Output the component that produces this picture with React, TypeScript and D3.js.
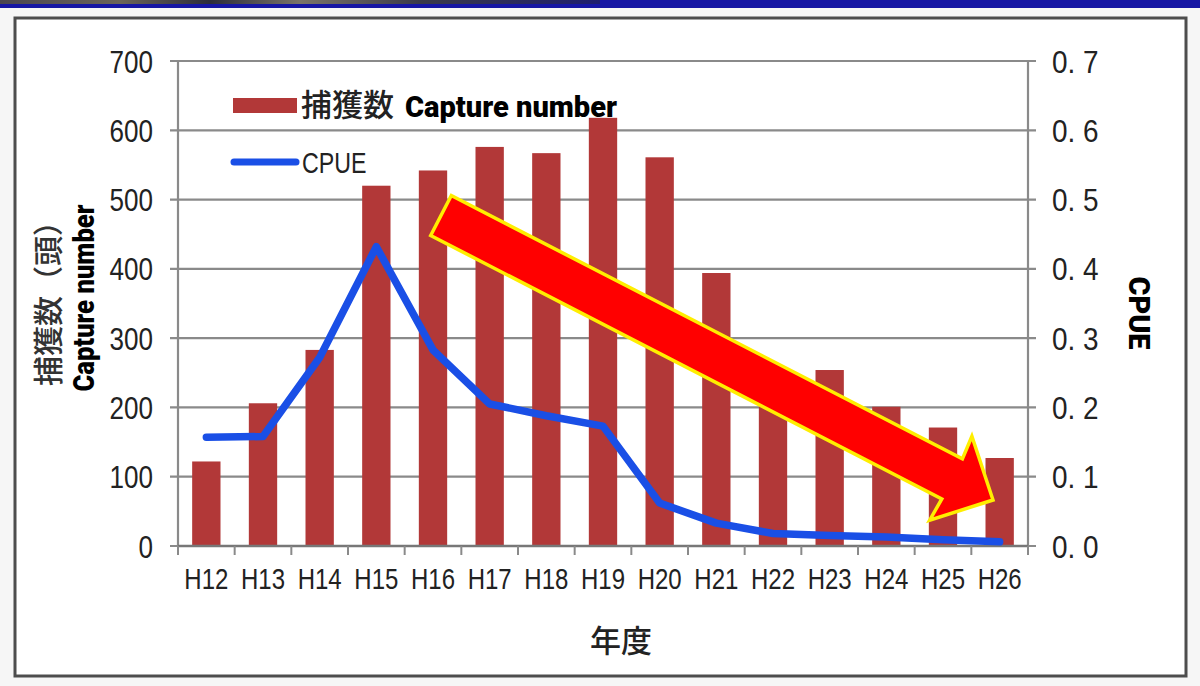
import React, { useEffect, useRef } from "react";
import * as d3 from "d3";

// Fiscal years (Heisei era)
const years = ["H12", "H13", "H14", "H15", "H16", "H17", "H18", "H19", "H20", "H21", "H22", "H23", "H24", "H25", "H26"];
// Number of animals captured (head)
const captures = [122, 206, 283, 520, 542, 576, 567, 618, 561, 394, 230, 254, 201, 171, 127];
// Catch per unit effort
const cpue = [0.157, 0.158, 0.272, 0.432, 0.283, 0.205, 0.188, 0.173, 0.062, 0.033, 0.018, 0.015, 0.013, 0.009, 0.006];

const leftTicks = [0, 100, 200, 300, 400, 500, 600, 700];
const rightTicks = [0, 0.1, 0.2, 0.3, 0.4, 0.5, 0.6, 0.7];

const W = 1200;
const H = 686;
const plot = { left: 178, right: 1028, top: 61, bottom: 546 };

const NUM_FONT = "'Liberation Sans', Arial, sans-serif";
const JP_FONT = "'Noto Sans CJK JP', 'Noto Sans CJK SC', sans-serif";
const HEAVY_FONT = "Roboto, 'Liberation Sans', Arial, sans-serif";

const BAR = "#b23838";
const LINE = "#1a4fe6";
const GRID = "#8a8a8a";

export default function App() {
  const svgRef = useRef<SVGSVGElement | null>(null);

  const x = d3.scaleBand<string>().domain(years).range([plot.left, plot.right]).paddingInner(0.5).paddingOuter(0.25);
  const step = x.step();
  const yL = d3.scaleLinear().domain([0, 700]).range([plot.bottom, plot.top]);
  const yR = d3.scaleLinear().domain([0, 0.7]).range([plot.bottom, plot.top]);

  const linePath = d3
    .line<number>()
    .x((_, i) => (x(years[i]) as number) + x.bandwidth() / 2)
    .y((d) => yR(d))
    .curve(d3.curveLinear)(cpue) as string;

  // Condense text horizontally so the glyphs read like a narrow gothic face
  useEffect(() => {
    const svg = d3.select(svgRef.current);
    svg.selectAll<SVGTextElement, unknown>("text[data-squeeze]").each(function () {
      const f = parseFloat(this.getAttribute("data-squeeze") || "1");
      const len = this.getComputedTextLength();
      this.setAttribute("textLength", String(len * f));
      this.setAttribute("lengthAdjust", "spacingAndGlyphs");
    });
  }, []);

  // Trend arrow, defined along its own axis then rotated into place
  const tail: [number, number] = [441, 215.5];
  const tip: [number, number] = [993, 500];
  const ang = Math.atan2(tip[1] - tail[1], tip[0] - tail[0]);
  const len = Math.hypot(tip[0] - tail[0], tip[1] - tail[1]);
  const bodyHalf = 22.5;
  const headHalf = 47;
  const headLen = 46;
  const arrowPts: [number, number][] = [
    [0, -bodyHalf],
    [len - headLen, -bodyHalf],
    [len - headLen - 2, -headHalf],
    [len, 0],
    [len - headLen - 1, headHalf],
    [len - headLen, bodyHalf],
    [0, bodyHalf],
  ];
  const arrowD =
    arrowPts
      .map(([u, v], i) => {
        const px = tail[0] + u * Math.cos(ang) - v * Math.sin(ang);
        const py = tail[1] + u * Math.sin(ang) + v * Math.cos(ang);
        return `${i === 0 ? "M" : "L"}${px.toFixed(1)},${py.toFixed(1)}`;
      })
      .join("") + "Z";

  return (
    <svg
      ref={svgRef}
      width={W}
      height={H}
      viewBox={`0 0 ${W} ${H}`}
      style={{ position: "absolute", left: 0, top: 0, display: "block" }}
    >
      <defs>
        <linearGradient id="strip" x1="0" x2="1" y1="0" y2="0">
          <stop offset="0" stopColor="#4a4550" />
          <stop offset="0.2" stopColor="#6b6458" />
          <stop offset="0.35" stopColor="#2c2c3a" />
          <stop offset="0.5" stopColor="#7a7468" />
          <stop offset="0.7" stopColor="#3a3a48" />
          <stop offset="1" stopColor="#1e1e6e" />
        </linearGradient>
      </defs>

      {/* page background and header band */}
      <rect x={0} y={0} width={W} height={H} fill="#f6f6f6" />
      <rect x={0} y={0} width={W} height={8} fill="#1616a4" />
      <rect x={0} y={0} width={600} height={4} fill="url(#strip)" />

      {/* chart frame */}
      <rect x={15} y={18} width={1171} height={658} fill="#ffffff" stroke="#4d4d4d" strokeWidth={3} />

      {/* horizontal gridlines with tick stubs on both axes */}
      {leftTicks.map((t) => (
        <line key={`g${t}`} x1={plot.left - 8} x2={plot.right + 8} y1={yL(t)} y2={yL(t)} stroke={GRID} strokeWidth={2.2} />
      ))}

      {/* bars */}
      {captures.map((v, i) => (
        <rect
          key={`b${i}`}
          x={x(years[i])}
          y={yL(v)}
          width={x.bandwidth()}
          height={yL(0) - yL(v)}
          fill={BAR}
        />
      ))}

      {/* axes */}
      <line x1={plot.left} x2={plot.left} y1={plot.top} y2={plot.bottom} stroke={GRID} strokeWidth={2.2} />
      <line x1={plot.right} x2={plot.right} y1={plot.top} y2={plot.bottom} stroke={GRID} strokeWidth={2.2} />
      <line x1={plot.left} x2={plot.right} y1={plot.bottom} y2={plot.bottom} stroke="#777" strokeWidth={2.5} />
      {d3.range(years.length + 1).map((i) => {
        const bx = plot.left + i * step;
        return <line key={`xt${i}`} x1={bx} x2={bx} y1={plot.bottom} y2={plot.bottom + 9} stroke={GRID} strokeWidth={2} />;
      })}

      {/* CPUE line */}
      <path d={linePath} fill="none" stroke={LINE} strokeWidth={7.5} strokeLinejoin="round" strokeLinecap="round" />

      {/* trend arrow */}
      <path d={arrowD} fill="#ff0000" stroke="#ffee00" strokeWidth={3.5} strokeLinejoin="miter" />

      {/* left tick labels */}
      {leftTicks.map((t) => (
        <text
          key={`lt${t}`}
          data-squeeze="0.84"
          x={153}
          y={yL(t) + 11.5}
          textAnchor="end"
          fontFamily={NUM_FONT}
          fontSize={31}
          fill="#222"
        >
          {t}
        </text>
      ))}

      {/* right tick labels */}
      {rightTicks.map((t) => (
        <text
          key={`rt${t}`}
          data-squeeze="0.9"
          x={1052}
          y={yR(t) + 11.5}
          textAnchor="start"
          fontFamily={NUM_FONT}
          fontSize={31}
          fill="#222"
        >
          {t.toFixed(1).replace(".", ". ")}
        </text>
      ))}

      {/* category labels */}
      {years.map((yv) => (
        <text
          key={`xl${yv}`}
          data-squeeze="0.8"
          x={(x(yv) as number) + x.bandwidth() / 2}
          y={589}
          textAnchor="middle"
          fontFamily={NUM_FONT}
          fontSize={30}
          fill="#222"
        >
          {yv}
        </text>
      ))}

      {/* axis titles */}
      <text x={621} y={652} textAnchor="middle" fontFamily={JP_FONT} fontWeight={500} fontSize={31} fill="#222">
        年度
      </text>
      <text
        transform="translate(59,296) rotate(-90)"
        textAnchor="middle"
        fontFamily={JP_FONT}
        fontWeight={500}
        fontSize={30}
        fill="#333"
      >
        捕獲数（頭）
      </text>
      <text
        transform="translate(94,298) rotate(-90)"
        textAnchor="middle"
        fontFamily={HEAVY_FONT}
        fontWeight={900}
        fontSize={30}
        textLength={187}
        lengthAdjust="spacingAndGlyphs"
        fill="#000"
      >
        Capture number
      </text>
      <text
        transform="translate(1129,313) rotate(90)"
        textAnchor="middle"
        fontFamily={HEAVY_FONT}
        fontWeight={900}
        fontSize={30}
        textLength={73}
        lengthAdjust="spacingAndGlyphs"
        fill="#000"
      >
        CPUE
      </text>

      {/* legend */}
      <rect x={233} y={98} width={64} height={15} fill={BAR} />
      <text x={301} y={116} fontFamily={JP_FONT} fontWeight={500} fontSize={31} fill="#222">
        捕獲数
      </text>
      <text
        x={405}
        y={117}
        fontFamily={HEAVY_FONT}
        fontWeight={900}
        fontSize={29}
        textLength={212}
        lengthAdjust="spacingAndGlyphs"
        fill="#000"
      >
        Capture number
      </text>
      <line x1={234} x2={296} y1={162} y2={162} stroke={LINE} strokeWidth={7} strokeLinecap="round" />
      <text x={302} y={173} data-squeeze="0.8" fontFamily={NUM_FONT} fontSize={29} fill="#222">
        CPUE
      </text>
    </svg>
  );
}
